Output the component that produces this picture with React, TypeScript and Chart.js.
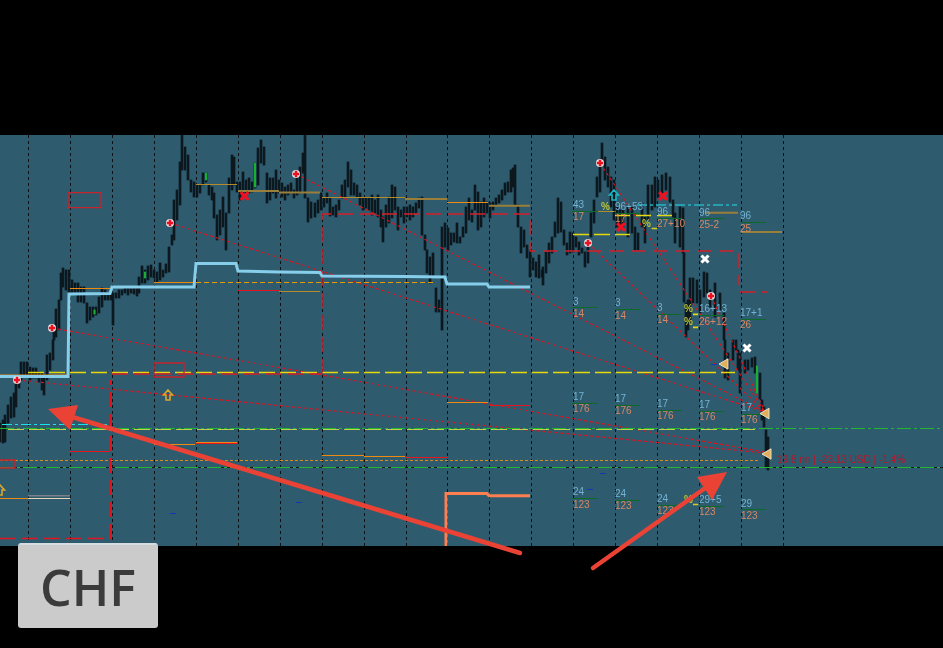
import React, { useEffect, useRef } from "react";
import { Chart, registerables } from "chart.js";

Chart.register(...registerables);

// session separators on the time axis
const sessionTicks = [28, 70, 112, 154, 196, 238, 280, 322, 364, 406, 447, 489, 531, 573, 615, 657, 699, 741, 783];

// [time, high, low]; the price axis runs downward
const priceBars: number[][] = [
  [0, 423, 442], [3, 420, 443], [5, 415, 442], [8, 405, 423], [11, 397, 418], [14, 393, 417], [16, 380, 407], [19, 377, 388], [21, 362, 380], [24, 362, 377], [27, 362, 377], [30, 367, 380], [33, 368, 378], [36, 368, 378], [39, 372, 382], [42, 373, 390], [44, 377, 395], [47, 355, 380], [50, 353, 370], [53, 340, 360], [54, 327, 340], [56, 309, 337], [59, 300, 330], [61, 273, 300], [63, 268, 287], [66, 270, 290], [69, 270, 293], [72, 280, 293], [75, 283, 293], [78, 283, 302], [81, 287, 302], [84, 287, 303], [87, 303, 323], [90, 307, 320], [93, 307, 317], [96, 307, 315], [99, 297, 313], [102, 288, 307], [105, 290, 300], [108, 293, 300], [111, 292, 300], [113, 293, 325], [116, 293, 298], [119, 290, 298], [122, 290, 295], [125, 288, 293], [128, 288, 295], [131, 288, 293], [134, 288, 294], [137, 288, 296], [139, 277, 293], [142, 266, 283], [145, 270, 283], [148, 266, 280], [151, 265, 277], [154, 270, 278], [157, 272, 282], [160, 263, 280], [163, 270, 277], [166, 264, 273], [169, 247, 272], [172, 235, 245], [174, 200, 240], [177, 190, 220], [180, 162, 205], [182, 135, 170], [185, 147, 170], [188, 155, 180], [191, 180, 192], [194, 182, 197], [197, 185, 197], [200, 185, 193], [203, 173, 185], [206, 173, 182], [209, 185, 195], [212, 187, 200], [214, 193, 218], [217, 215, 240], [220, 210, 235], [223, 197, 227], [226, 213, 250], [229, 178, 213], [232, 155, 190], [234, 157, 185], [237, 182, 192], [240, 182, 200], [243, 172, 195], [246, 180, 193], [249, 178, 193], [252, 182, 192], [255, 163, 188], [258, 148, 185], [261, 140, 163], [264, 147, 165], [267, 173, 203], [270, 178, 200], [273, 178, 193], [276, 170, 198], [279, 180, 193], [282, 183, 197], [285, 187, 200], [288, 185, 195], [291, 183, 193], [294, 190, 198], [297, 177, 195], [300, 167, 193], [303, 153, 173], [305, 135, 198], [308, 198, 222], [311, 202, 218],
  [315, 203, 217], [318, 200, 213], [321, 193, 210], [324, 198, 207], [327, 193, 203], [330, 198, 216], [333, 207, 215], [336, 205, 217], [339, 200, 210], [342, 185, 198], [345, 180, 197], [348, 162, 187], [351, 170, 195], [354, 183, 195], [357, 185, 197], [360, 193, 205], [363, 198, 210], [366, 198, 208], [369, 198, 210], [372, 195, 215], [375, 200, 213], [378, 195, 217], [381, 210, 227], [383, 217, 242], [386, 205, 227], [389, 197, 223], [392, 185, 218], [395, 187, 210], [398, 207, 230], [401, 210, 217], [404, 207, 223], [407, 207, 217], [410, 205, 220], [413, 207, 217], [416, 203, 213], [419, 198, 208], [422, 197, 235], [425, 235, 250], [427, 250, 273], [430, 257, 283], [433, 253, 277], [436, 288, 312], [439, 300, 312], [442, 227, 330], [445, 223, 247], [448, 228, 250], [451, 233, 245], [454, 233, 242], [457, 223, 243], [460, 237, 243], [463, 227, 237], [466, 207, 233], [469, 198, 220], [472, 210, 222], [475, 185, 210], [478, 192, 230], [481, 202, 227], [484, 198, 217], [487, 202, 213], [490, 203, 218], [493, 202, 210], [496, 198, 205], [499, 195, 203], [502, 190, 200], [505, 183, 195], [508, 182, 192], [511, 170, 192], [513, 168, 187], [515, 165, 205], [518, 205, 227], [521, 227, 253], [524, 230, 247], [527, 245, 258], [530, 250, 277], [533, 258, 270], [536, 262, 277], [539, 255, 278], [542, 270, 277], [543, 267, 285], [546, 252, 273], [549, 243, 263], [552, 237, 253], [555, 222, 237], [558, 198, 233], [561, 202, 232], [564, 230, 245], [567, 243, 255], [570, 232, 253], [573, 233, 252], [576, 237, 247], [579, 242, 255], [582, 248, 253], [585, 252, 267], [588, 245, 263], [591, 213, 237], [594, 200, 223], [597, 177, 197], [600, 163, 192], [602, 143, 163], [605, 157, 180], [608, 167, 187], [611, 177, 207], [614, 180, 220],
  [617, 207, 227], [620, 210, 227], [623, 210, 227], [628, 207, 237], [632, 207, 233], [635, 227, 250], [638, 233, 250], [642, 203, 227], [645, 217, 243], [648, 185, 220], [652, 185, 210], [655, 177, 207], [658, 180, 197], [662, 175, 193], [666, 173, 190], [670, 177, 202], [673, 200, 217], [675, 213, 243], [680, 207, 247], [683, 208, 253], [684, 253, 302], [686, 303, 337], [688, 300, 330], [690, 278, 323], [693, 278, 303], [697, 280, 303], [700, 290, 313], [704, 272, 297], [707, 273, 293], [710, 290, 307], [715, 283, 317], [720, 293, 310], [724, 313, 340], [725, 340, 378], [728, 353, 380], [733, 340, 360], [736, 340, 350], [738, 350, 370], [740, 353, 393], [745, 360, 373], [748, 360, 370], [752, 358, 367], [755, 357, 373], [760, 373, 400], [762, 400, 420], [764, 407, 427], [766, 430, 468], [768, 437, 470],
];
const bullBars: number[][] = [[94.5, 310, 314], [145, 272, 278], [206, 173, 180], [255, 163, 187], [757, 366, 393]];

// [from, to, level] segments
const averageSteps: number[][] = [[0, 376.5], [68, 376.5], [69, 294], [110, 293.5], [112, 287], [194, 287], [196, 263.5], [236, 263.5], [238, 271], [279, 272], [320, 272.5], [322, 276], [405, 276.5], [445, 277], [447, 284], [487, 284], [489, 287], [530, 287]];
const lowerSteps: number[][] = [[446, 546], [446, 493.5], [487, 493.5], [489, 495.7], [530, 495.7]];
const orangeLevels = [[70, 110, 288.5], [154, 194, 282.5], [0, 68, 375], [154, 195, 444.5], [196, 237, 442.5], [0, 28, 498.5], [447, 488, 202.5], [322, 364, 455.5], [364, 405, 456.5], [447, 488, 402.5]];
const goldLevels = [[196, 237, 184.5], [279, 320, 291.5], [322, 405, 197.5], [598, 614, 211.5]];
const goldThickLevels = [[238, 279, 191], [279, 320, 192.5], [405, 447, 199], [489, 530, 205.7], [706, 738, 212.7], [741, 782, 232]];
const redLevels = [[238, 279, 290.5], [70, 110, 451.5], [405, 447, 457.5], [489, 530, 405.5], [196, 237, 443.5]];
const paleLevels = [[28, 70, 498.5]];
const greyLevels = [[28, 70, 495.7]];
const dashedOrangeLevels = [[196, 434, 282.5]];
const dottedOrangeLevels = [[0, 758, 460.5]];
const yellowLevels = [[28, 735, 372.5], [573, 630, 234.5]];
const yellowShort = [[615, 630, 215.5], [636, 651, 215.5], [657, 672, 215.5], [652, 657, 228.5], [693, 698, 314.5], [693, 698, 327.5], [693, 698, 504.5]];
const paleGreenLevels = [[8, 755, 429.5]];
const greenDashDot = [[0, 943, 428.5], [0, 943, 467.5]];
const blackLevels = [[0, 943, 467.5]];
const cyanDashDot = [[2, 110, 424.5]];
const tealDashDot = [[637, 737, 205]];
const blueTicks = [[170, 176, 513.5], [296, 302, 502.5], [711, 717, 364.5], [600, 606, 473.5], [587, 593, 489.5]];
const statTicks = [[572, 598, 211.5], [572, 598, 307.5], [615, 640, 213.5], [615, 640, 309.5], [657, 682, 218.5], [657, 682, 314.5], [699, 724, 218.5], [699, 724, 315.5], [741, 766, 222.5], [741, 766, 319.5], [572, 598, 403.5], [615, 640, 405.5], [657, 682, 410.5], [699, 724, 411.5], [741, 766, 414.5], [572, 598, 498.5], [615, 640, 500.5], [657, 682, 505.5], [699, 724, 506.5], [741, 766, 509.5]];

// stop-loss style boxes: polylines
const redDashedPaths: number[][][] = [
  [[322, 374], [322, 214], [530, 214], [530, 251], [739, 251], [739, 285]],
  [[740, 292], [768, 292]],
  [[112, 374], [321, 374]],
];
const brightDashedPaths: number[][][] = [
  [[0, 538.5], [110.5, 538.5], [110.5, 380]],
];
const redBoxes: number[][][] = [
  [[68, 192.7], [101, 192.7], [101, 207.7], [68, 207.7], [68, 192.7]],
  [[154, 363], [184, 363], [184, 377], [154, 377], [154, 363]],
  [[0, 460], [15, 460], [15, 468], [0, 468]],
];

// trade lines from entry to exit
const tradeLines: number[][][] = [
  [[52, 328], [765, 452]],
  [[17, 380], [765, 453]],
  [[170, 223], [765, 412]],
  [[296, 174], [765, 412]],
  [[600, 163], [765, 412]],
  [[588, 243], [765, 412]],
  [[711, 296], [765, 412]],
];
const entryMarks = [[52, 328], [17, 380], [170, 223], [296, 174], [600, 163], [588, 243], [711, 296]];
const redCrosses = [[244.5, 196], [621, 227], [663, 196]];
const whiteCrosses = [[705, 259], [747, 348]];
const exitFlags = [[725, 364], [766, 413.5], [768, 454]];
const goldUpArrows = [[168, 395], [0, 490]];
const cyanUpArrows = [[614, 195]];

// [time, level, text]
const blueLabels: [number, number, string][] = [
  [573, 205, "43"], [573, 302, "3"], [615, 207, "96+53"], [615, 303, "3"], [657, 212, "96"], [657, 308, "3"], [699, 213, "96"], [699, 309, "16+13"], [740, 216, "96"], [740, 313, "17+1"],
  [573, 397, "17"], [615, 399, "17"], [657, 404, "17"], [699, 405, "17"], [741, 408.5, "17"],
  [573, 492, "24"], [615, 494, "24"], [657, 499, "24"], [699, 500, "29+5"], [741, 504, "29"],
];
const salmonLabels: [number, number, string][] = [
  [573, 217, "17"], [573, 314, "14"], [615, 219, "17"], [615, 316, "14"], [657, 224, "27+10"], [657, 320, "14"], [699, 225, "25-2"], [699, 322, "26+12"], [740, 229, "25"], [740, 325, "26"],
  [573, 409.5, "176"], [615, 411, "176"], [657, 416.5, "176"], [699, 417.5, "176"], [741, 420.5, "176"],
  [573, 505, "123"], [615, 506, "123"], [657, 511, "123"], [699, 512, "123"], [741, 516, "123"],
];
const percentLabels: [number, number, string][] = [[601, 207, "%_"], [642, 224, "%_"], [684, 309, "%_"], [684, 322, "%_"], [684, 500, "%_"]];
const profitLabel: [number, number, string] = [777, 460.7, "19.8 nn | -23.13 USD | -1.4%"];
const noteLabel = "CHF";

// annotation arrows: tail, tip, wing, wing
const annotationArrows: number[][][] = [
  [[520, 553], [48, 409], [78, 405], [70, 430]],
  [[593, 568], [727, 472], [697, 477], [712, 500]],
];

const seg = (list: number[][]) => list.flatMap(([a, b, y]) => [{ x: a, y }, { x: b, y }, { x: b, y: null as any }]);
const paths = (list: number[][][]) => list.flatMap((p) => [...p.map(([x, y]) => ({ x, y })), { x: p[p.length - 1][0], y: null as any }]);
const pts = (list: number[][]) => list.map(([x, y]) => ({ x, y }));

const line = (data: any[], color: string, width: number, dash: number[] = []) => ({
  type: "line" as const, data, borderColor: color, borderWidth: width, borderDash: dash,
  pointRadius: 0, tension: 0, spanGaps: false, fill: false,
});
const marks = (data: any[], style: string, radius: number, bg: string, border: string, bw: number, rotation = 0) => ({
  type: "line" as const, data, showLine: false, pointStyle: style, pointRadius: radius, pointBackgroundColor: bg,
  pointBorderColor: border, pointBorderWidth: bw, pointRotation: rotation,
});

const overlay = {
  id: "overlay",
  afterDatasetsDraw(chart: any) {
    const { ctx, scales: { x, y } } = chart;
    const X = (v: number) => x.getPixelForValue(v);
    const Y = (v: number) => y.getPixelForValue(v);
    ctx.save();
    ctx.textBaseline = "middle";
    ctx.textAlign = "left";
    const arrow = (cx: number, cy: number, color: string) => {
      const px = X(cx), py = Y(cy);
      ctx.strokeStyle = color;
      ctx.lineWidth = 1.6;
      ctx.beginPath();
      ctx.moveTo(px, py - 5); ctx.lineTo(px + 4.5, py); ctx.lineTo(px + 2, py);
      ctx.lineTo(px + 2, py + 5); ctx.lineTo(px - 2, py + 5); ctx.lineTo(px - 2, py);
      ctx.lineTo(px - 4.5, py); ctx.closePath();
      ctx.stroke();
    };
    goldUpArrows.forEach(([a, b]) => arrow(a, b, "#d9a62e"));
    cyanUpArrows.forEach(([a, b]) => arrow(a, b, "#19b6c4"));

    const text = (rows: [number, number, string][], font: string, color: string) => {
      ctx.font = font; ctx.fillStyle = color;
      rows.forEach(([a, b, t]) => ctx.fillText(t, X(a), Y(b)));
    };
    text(blueLabels, "10px 'Liberation Sans'", "#74b3d4");
    text(salmonLabels, "10px 'Liberation Sans'", "#d98764");
    text(percentLabels, "bold 10px 'Liberation Sans'", "#b8c23a");
    text([profitLabel], "10px 'Liberation Sans'", "#b8162a");

    annotationArrows.forEach(([tail, tip, w1, w2]) => {
      ctx.strokeStyle = "#ea4335"; ctx.fillStyle = "#ea4335";
      ctx.lineWidth = 4.5; ctx.lineCap = "round";
      const mx = (w1[0] + w2[0]) / 2, my = (w1[1] + w2[1]) / 2;
      ctx.beginPath(); ctx.moveTo(X(tail[0]), Y(tail[1])); ctx.lineTo(X(mx), Y(my)); ctx.stroke();
      ctx.beginPath(); ctx.moveTo(X(tip[0]), Y(tip[1])); ctx.lineTo(X(w1[0]), Y(w1[1])); ctx.lineTo(X(w2[0]), Y(w2[1])); ctx.closePath(); ctx.fill();
    });

    // note card
    ctx.fillStyle = "#cbcbcb";
    ctx.beginPath(); ctx.roundRect(18, 543, 140, 85, 3); ctx.fill();
    ctx.fillStyle = "#d6dde0"; ctx.fillRect(20, 543, 136, 2);
    ctx.fillStyle = "#3b3b3b";
    ctx.font = "600 50px 'Open Sans'";
    ctx.textAlign = "center"; ctx.textBaseline = "alphabetic";
    ctx.fillText(noteLabel, 88, 606);
    ctx.restore();
  },
};

const panelBackground = {
  id: "panelBackground",
  beforeDraw(chart: any) {
    const { ctx, chartArea: a, width, height } = chart;
    ctx.save();
    ctx.fillStyle = "#000";
    ctx.fillRect(0, 0, width, height);
    ctx.fillStyle = "#2f5b6e";
    ctx.fillRect(a.left, a.top, a.right - a.left, a.bottom - a.top);
    ctx.restore();
  },
};

export default function App() {
  const ref = useRef<HTMLCanvasElement>(null);
  useEffect(() => {
    document.body.style.margin = "0";
    document.body.style.background = "#000";
    const bars = priceBars.map(([x, h, l]) => ({ x, y: [h, l] }));
    // Chart.js paints the first dataset last, so the list runs back to front and is flipped
    const backToFront: any[] = [
      { type: "bar", data: bars, backgroundColor: "#1a3846", barThickness: 2.6, grouped: false },
      { type: "bar", data: bars, backgroundColor: "#0a1216", barThickness: 1, grouped: false },
      { type: "bar", data: bullBars.map(([x, h, l]) => ({ x, y: [h, l] })), backgroundColor: "#17b02f", barThickness: 1.5, grouped: false },
      line(paths(tradeLines), "#e0101c", 1.2, [3, 3]),
      line(seg(blackLevels), "#10181c", 1),
      line(seg(greenDashDot), "#1fb82e", 1, [14, 3, 3, 3]),
      line(seg(paleGreenLevels), "#c4cf52", 1, [16, 5]),
      line(seg(yellowLevels), "#e6d80e", 1.5, [16, 5]),
      line(seg(yellowShort), "#e6d80e", 1.5),
      line(seg(dottedOrangeLevels), "#d98a1a", 1, [3, 2]),
      line(seg(dashedOrangeLevels), "#e89a0a", 1, [5, 3]),
      line(seg(goldThickLevels), "#9a7f3a", 2),
      line(seg(goldLevels), "#b58a2a", 1),
      line(seg(redLevels), "#e8141e", 1),
      line(seg(orangeLevels), "#ee8a10", 1),
      line(seg(paleLevels), "#e4d4b8", 1),
      line(seg(greyLevels), "#7c7f8c", 1.5),
      line(seg(cyanDashDot), "#19e3ea", 1, [10, 3, 3, 3]),
      line(seg(tealDashDot), "#27b4c2", 1.5, [10, 3, 3, 3]),
      line(paths(redDashedPaths), "#d4202a", 1.4, [15, 7]),
      line(paths(brightDashedPaths), "#e3141e", 1.5, [15, 7]),
      line(paths(redBoxes), "#c4242c", 1.3),
      line(seg(blueTicks), "#1238b8", 1),
      line(seg(statTicks), "#0b6a26", 1),
      line(pts(averageSteps), "#87ceeb", 3),
      line(pts(lowerSteps), "#ff7f50", 3),
      marks(pts(entryMarks), "circle", 4, "#e4e4e4", "#e4e4e4", 0),
      marks(pts(entryMarks), "cross", 3.2, "#ee1020", "#ee1020", 2.5),
      marks(pts(redCrosses), "crossRot", 5.5, "#f01020", "#f01020", 3),
      marks(pts(whiteCrosses), "crossRot", 5, "#fff", "#fff", 3),
      marks(pts(exitFlags), "triangle", 6, "#e2ae5c", "#e8e0c8", 1, -90),
    ];
    const chart = new Chart(ref.current!, {
      type: "bar",
      data: { datasets: backToFront.reverse() },
      options: {
        animation: false,
        responsive: false,
        events: [],
        layout: { autoPadding: false, padding: { top: 135, bottom: 102, left: 0, right: 0 } },
        plugins: { legend: { display: false }, tooltip: { enabled: false }, title: { display: false } },
        scales: {
          x: {
            type: "linear", min: 0, max: 943, offset: false,
            grid: { color: "#0b1114", lineWidth: 1, drawTicks: false, offset: false, tickLength: 0 },
            border: { display: false, dash: [3, 3] },
            ticks: { display: false, autoSkip: false },
            afterBuildTicks: (axis: any) => { axis.ticks = sessionTicks.map((value) => ({ value })); },
          },
          y: { type: "linear", min: 135, max: 546, reverse: true, display: false, grid: { display: false } },
        },
      } as any,
      plugins: [panelBackground, overlay],
    });
    return () => chart.destroy();
  }, []);
  return (
    <div style={{ width: 943, height: 648, background: "#000" }}>
      <canvas ref={ref} width={943} height={648} style={{ display: "block" }} />
    </div>
  );
}
